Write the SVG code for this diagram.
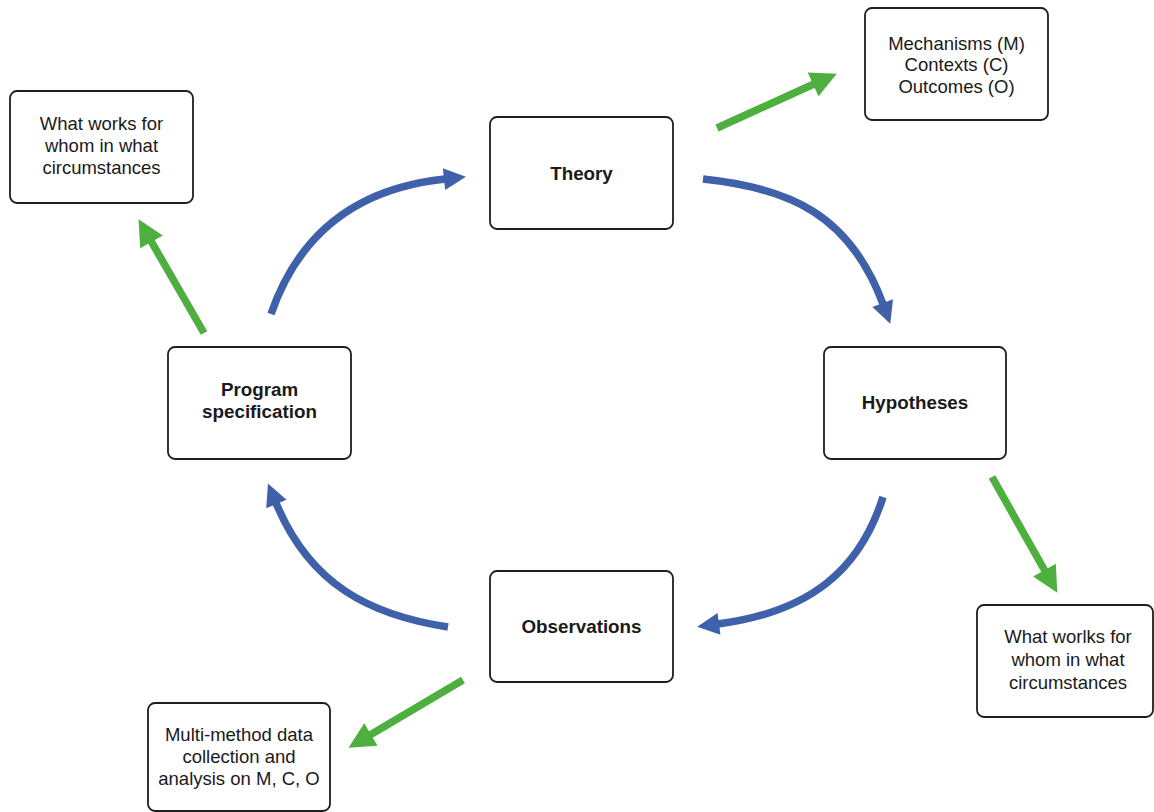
<svg xmlns="http://www.w3.org/2000/svg" width="1154" height="812" viewBox="0 0 1154 812">
<style>
.box{fill:#fff;stroke:#1e1e1e;stroke-width:1.8}
.t{font-family:"Liberation Sans",Arial,sans-serif;font-size:18.5px;fill:#1a1a1a;text-anchor:middle}
.b{font-family:"Liberation Sans",Arial,sans-serif;font-size:18.8px;font-weight:bold;fill:#1a1a1a;text-anchor:middle}
.blue{fill:none;stroke:#3F61AA;stroke-width:7.5;marker-end:url(#hb)}
.green{fill:none;stroke:#4DAF3E;stroke-width:7.5;marker-end:url(#hg)}
</style>
<defs>
<marker id="hb" markerUnits="userSpaceOnUse" markerWidth="26" markerHeight="24" refX="1" refY="11" orient="auto" overflow="visible">
<path d="M0,0 L22,11 L0,22 z" fill="#3F61AA"/>
</marker>
<marker id="hg" markerUnits="userSpaceOnUse" markerWidth="30" markerHeight="28" refX="1" refY="13" orient="auto" overflow="visible">
<path d="M0,0 L26,13 L0,26 z" fill="#4DAF3E"/>
</marker>
</defs>
<rect width="1154" height="812" fill="#fff"/>
<g id="connectors">
<path class="blue" d="M271,314 C300,230 360,188 445,179"/>
<path class="blue" d="M703,179 C790,188 850,215 883,304"/>
<path class="blue" d="M883,497 C860,570 810,612 718,624"/>
<path class="blue" d="M448,627 C370,615 310,585 276,503"/>
<path class="green" d="M717,128 L814,84"/>
<path class="green" d="M204,333 L151,241"/>
<path class="green" d="M992,477 L1045,571"/>
<path class="green" d="M463,680 L370,735"/>
</g>
<g id="theory"><rect class="box" x="490" y="117" width="183" height="112" rx="7"/><text class="b" x="581.5" y="180">Theory</text></g>
<g id="hypotheses"><rect class="box" x="824" y="347" width="182" height="112" rx="7"/><text class="b" x="915" y="409">Hypotheses</text></g>
<g id="observations"><rect class="box" x="490" y="571" width="183" height="111" rx="7"/><text class="b" x="581.5" y="633">Observations</text></g>
<g id="program"><rect class="box" x="168" y="347" width="183" height="112" rx="7"/><text class="b" x="259.5" y="396">Program</text><text class="b" x="259.5" y="418">specification</text></g>
<g id="mco"><rect class="box" x="865" y="8" width="183" height="112" rx="7"/><text class="t" x="956.5" y="50">Mechanisms (M)</text><text class="t" x="956.5" y="71">Contexts (C)</text><text class="t" x="956.5" y="93">Outcomes (O)</text></g>
<g id="wwfw1"><rect class="box" x="10" y="91" width="183" height="112" rx="7"/><text class="t" x="101.5" y="130">What works for</text><text class="t" x="101.5" y="152">whom in what</text><text class="t" x="101.5" y="174">circumstances</text></g>
<g id="wwfw2"><rect class="box" x="977" y="605" width="176" height="112" rx="7"/><text class="t" x="1068" y="643">What worlks for</text><text class="t" x="1068" y="666">whom in what</text><text class="t" x="1068" y="689">circumstances</text></g>
<g id="multi"><rect class="box" x="148" y="703" width="182" height="108" rx="7"/><text class="t" x="239" y="741">Multi-method data</text><text class="t" x="239" y="763">collection and</text><text class="t" x="239" y="785">analysis on M, C, O</text></g>
</svg>
